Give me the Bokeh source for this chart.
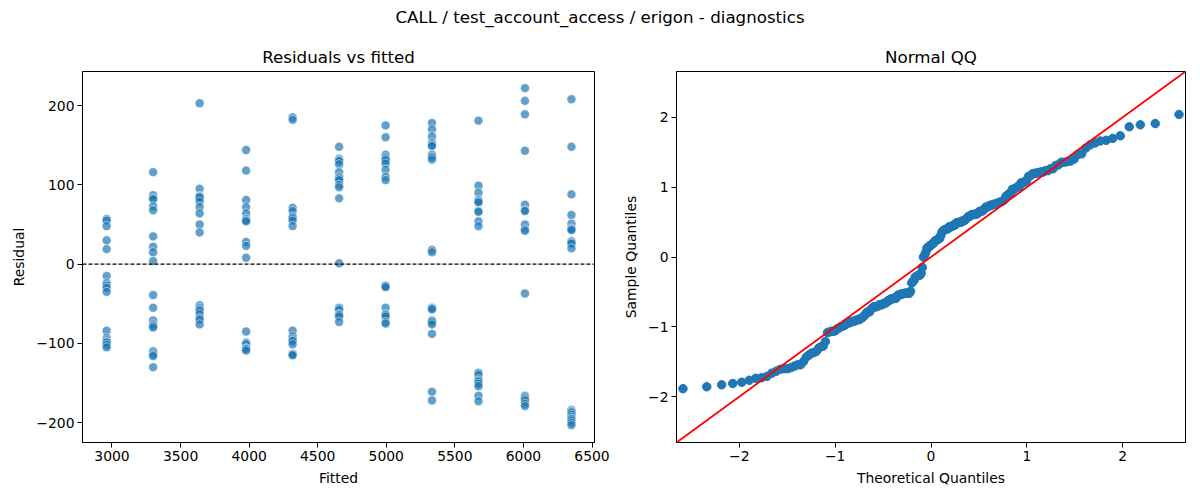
import numpy as np
from statistics import NormalDist
from bokeh.plotting import figure
from bokeh.models import Span, Slope, FixedTicker, Div, Range1d
from bokeh.layouts import row, column
from bokeh.embed import file_html
from bokeh.resources import INLINE

suptitle = "CALL / test_account_access / erigon - diagnostics"
left_title = "Residuals vs fitted"
right_title = "Normal QQ"

fitted_levels = [2961, 3300, 3639, 3978, 4317, 4656, 4995, 5333, 5672, 6011, 6350]
resid_g01 = [57, 55, 48, 30, 19, -15, -24, -27, -30, -35, -84, -93, -96, -98, -99, -102, -105]
resid_g02 = [116, 87, 83, 82, 73, 68, 35, 22, 15, 4, -39, -55, -71, -76, -78, -80, -110, -114, -116, -130]
resid_g03 = [203, 95, 86, 85, 84, 79, 72, 64, 50, 40, -52, -55, -57, -59, -63, -68, -70, -76]
resid_g04 = [144, 118, 81, 72, 64, 57, 55, 54, 28, 23, 8, -85, -99, -101, -106, -107, -109]
resid_g05 = [185, 182, 71, 67, 60, 58, 55, 48, -84, -91, -94, -96, -97, -101, -113, -114, -115]
resid_g06 = [148, 133, 131, 130, 126, 116, 110, 108, 106, 100, 97, 83, 1, -55, -56, -58, -63, -64, -66, -73]
resid_g07 = [175, 160, 138, 135, 133, 131, 127, 119, 110, 106, -27, -28, -29, -55, -63, -64, -66, -73, -75]
resid_g08 = [178, 170, 161, 153, 150, 149, 138, 135, 132, 18, 15, -55, -56, -57, -71, -73, -76, -88, -161, -172]
resid_g09 = [181, 99, 90, 81, 79, 78, 67, 66, 54, 48, -137, -138, -140, -145, -147, -148, -151, -154, -166, -173]
resid_g10 = [222, 206, 189, 143, 75, 68, 67, 50, 44, 42, -37, -166, -168, -170, -172, -176, -179]
resid_g11 = [208, 148, 88, 62, 51, 45, 44, 43, 29, 27, 26, 20, -184, -186, -187, -190, -193, -195, -197, -200, -203]
resid_groups = [resid_g01, resid_g02, resid_g03, resid_g04, resid_g05, resid_g06,
                resid_g07, resid_g08, resid_g09, resid_g10, resid_g11]

left_xticks = [3000, 3500, 4000, 4500, 5000, 5500, 6000, 6500]
left_yticks = [-200, -100, 0, 100, 200]
qq_ticks = [-2, -1, 0, 1, 2]

# assemble
fitted = []
resid = []
for lvl, grp in zip(fitted_levels, resid_groups):
    fitted += [lvl] * len(grp)
    resid += grp
resid_arr = np.array(resid, dtype=float)

# QQ: standardized residuals vs normal quantiles (plotting positions i/(n+1))
n = len(resid_arr)
sample_q = np.sort((resid_arr - resid_arr.mean()) / resid_arr.std())
nd = NormalDist()
theo_q = np.array([nd.inv_cdf(i / (n + 1)) for i in range(1, n + 1)])

FONT = "DejaVu Sans"
BLUE = "#1f77b4"


def minus(v):
    return str(v).replace("-", "\u2212")


def style(p, xticks, yticks):
    p.background_fill_color = "white"
    p.border_fill_color = "white"
    p.outline_line_color = "black"
    p.outline_line_width = 1
    p.outline_line_alpha = 1
    p.xgrid.visible = False
    p.ygrid.visible = False
    p.title.text_font = FONT
    p.title.text_font_size = "16.67px"
    p.title.text_font_style = "normal"
    p.title.align = "center"
    p.title.text_color = "black"
    for ax, ticks in ((p.xaxis[0], xticks), (p.yaxis[0], yticks)):
        ax.ticker = FixedTicker(ticks=ticks)
        ax.major_label_overrides = {t: minus(t) for t in ticks}
        ax.minor_tick_line_color = None
        ax.major_tick_in = 0
        ax.major_tick_out = 5
        ax.major_tick_line_color = "black"
        ax.axis_line_color = "black"
        ax.major_label_text_font = FONT
        ax.major_label_text_font_size = "13.9px"
        ax.major_label_text_color = "black"
        ax.axis_label_text_font = FONT
        ax.axis_label_text_font_size = "13.9px"
        ax.axis_label_text_font_style = "normal"
        ax.axis_label_text_color = "black"
        ax.major_label_standoff = 3
        ax.axis_label_standoff = 6


# Left: residuals vs fitted
p1 = figure(width=620, height=454, output_backend="svg", toolbar_location=None,
            title=left_title, x_range=Range1d(2785, 6518), y_range=Range1d(-225, 243),
            min_border_left=82, min_border_right=26, min_border_top=33, min_border_bottom=50,
            x_axis_label="Fitted", y_axis_label="Residual")
p1.scatter(fitted, resid, size=9, fill_color=BLUE, fill_alpha=0.7,
           line_color="white", line_alpha=0.7, line_width=0.75)
p1.add_layout(Span(location=0, dimension="width", line_color="black",
                   line_dash="4 2", line_width=1.1))
style(p1, left_xticks, left_yticks)

# Right: normal QQ
qq_lo, qq_hi = -2.655, 2.655
p2 = figure(width=572, height=454, output_backend="svg", toolbar_location=None,
            title=right_title, x_range=Range1d(qq_lo, qq_hi), y_range=Range1d(qq_lo, qq_hi),
            min_border_left=53, min_border_right=7, min_border_top=33, min_border_bottom=50,
            x_axis_label="Theoretical Quantiles", y_axis_label="Sample Quantiles")
p2.scatter(theo_q, sample_q, size=8.5, fill_color=BLUE, line_color=BLUE, line_width=1)
p2.add_layout(Slope(gradient=1, y_intercept=0, line_color="red", line_width=1.8))
style(p2, qq_ticks, qq_ticks)

head = Div(text=('<div style="text-align:center;font-family:\'DejaVu Sans\';'
                 'font-size:16.67px;line-height:36px;color:black;width:1200px;">'
                 + suptitle + '</div>'),
           width=1200, height=38, margin=(0, 0, 0, 0))

layout = column(head, row(p1, p2))
open("out.html", "w").write(file_html(layout, INLINE))
